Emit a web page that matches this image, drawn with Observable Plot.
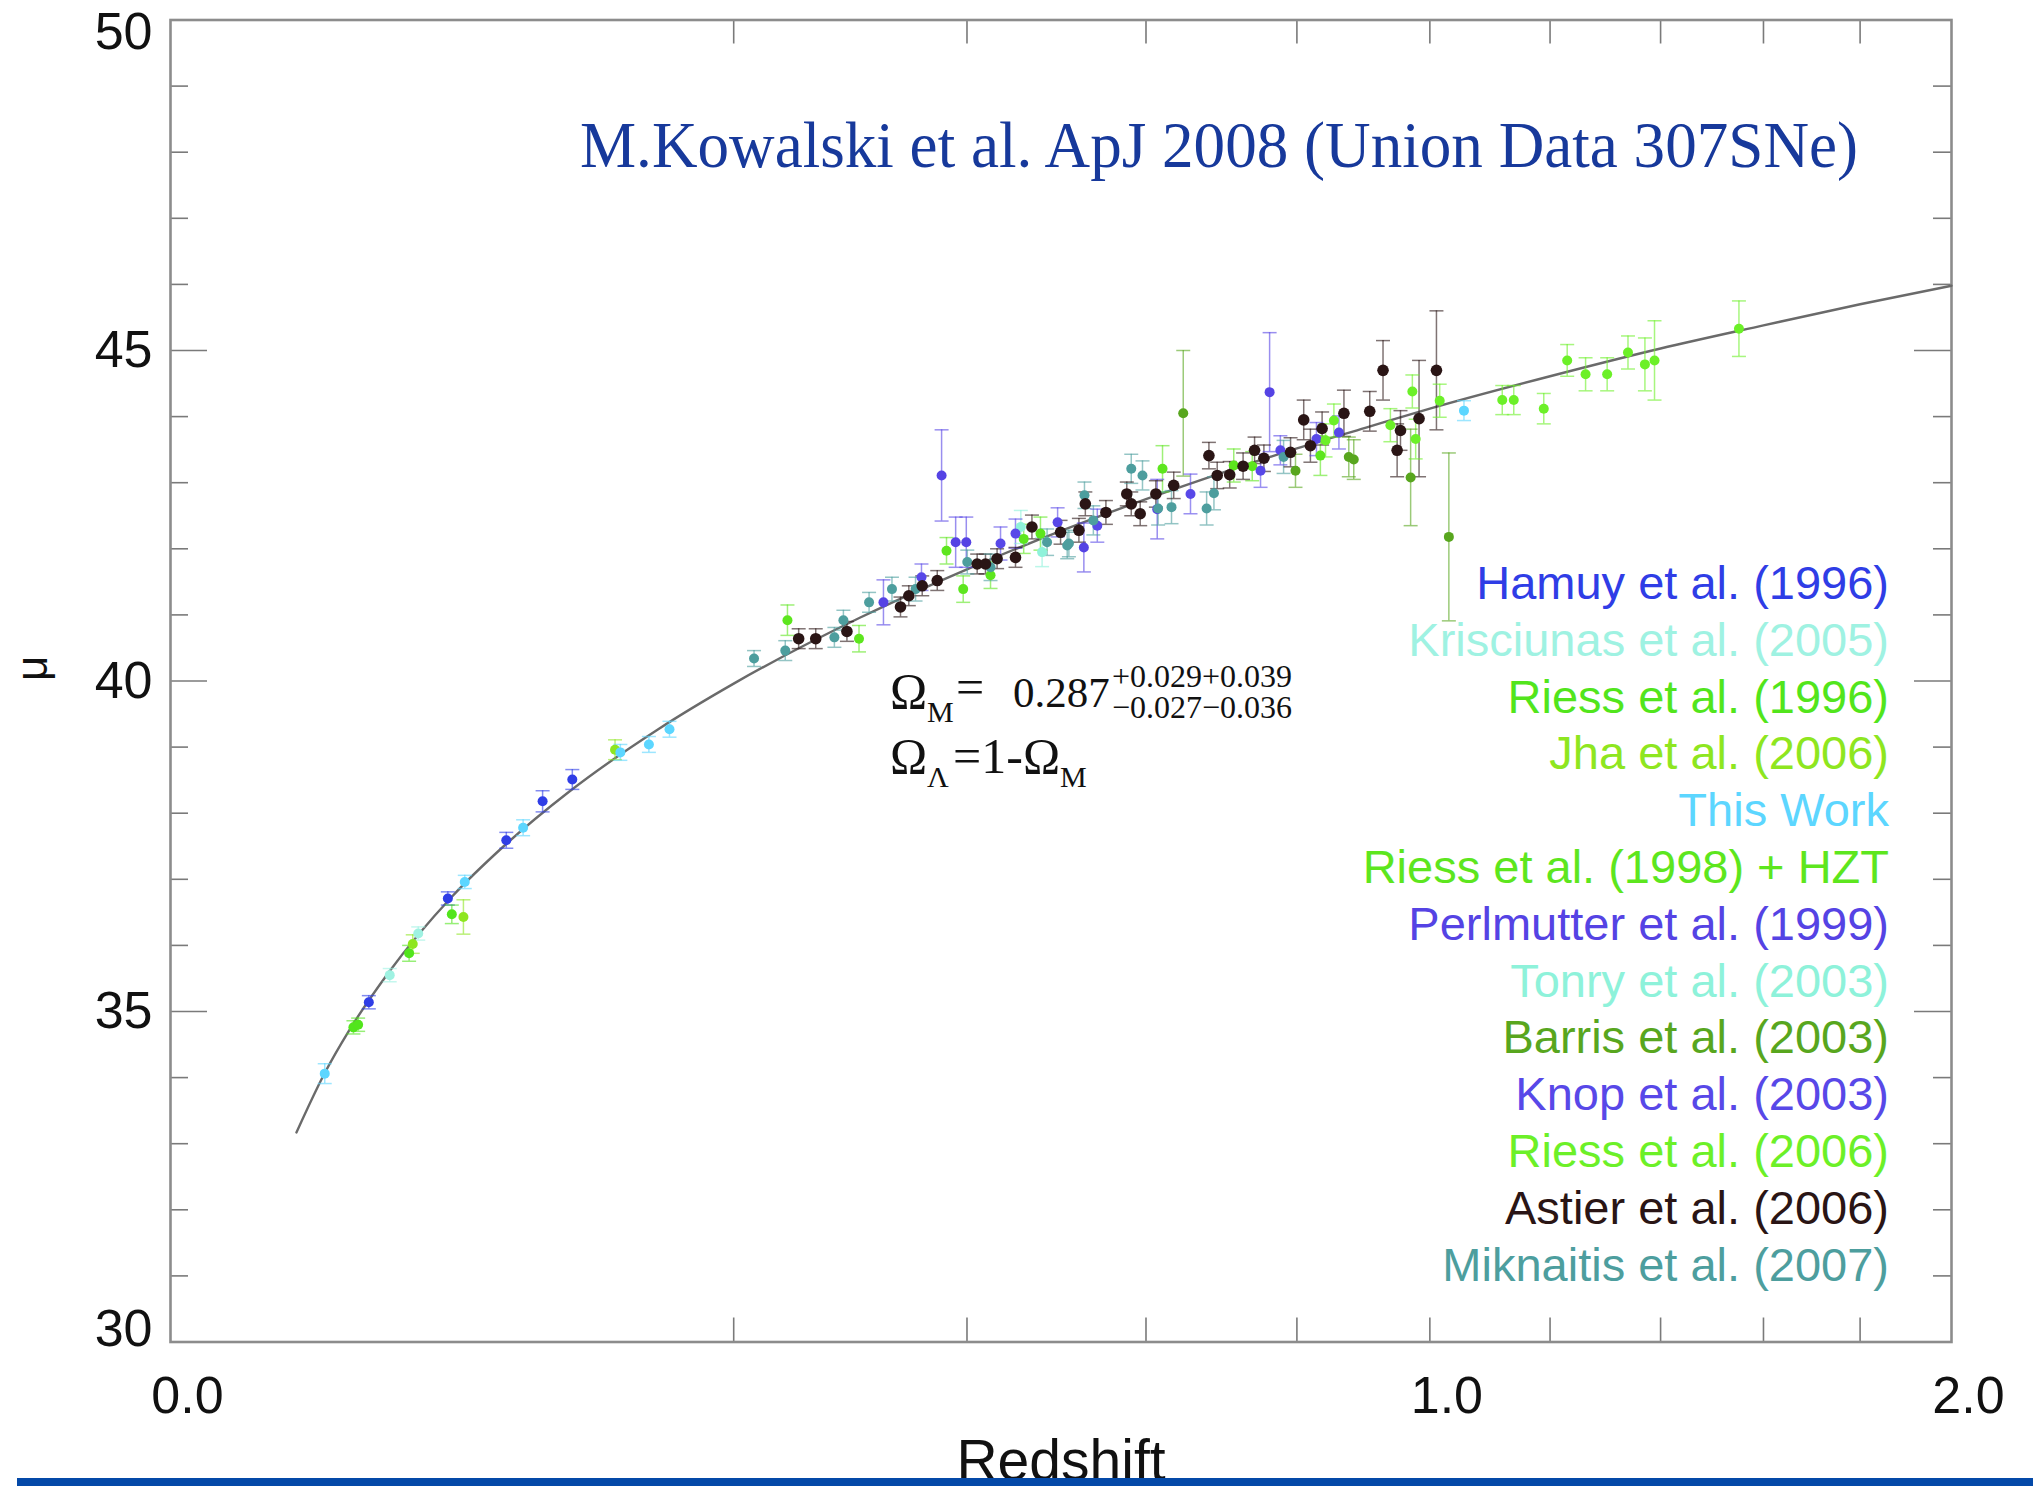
<!DOCTYPE html>
<html>
<head>
<meta charset="utf-8">
<script src="https://cdn.jsdelivr.net/npm/d3@7"></script>
<script src="https://cdn.jsdelivr.net/npm/@observablehq/plot@0.6"></script>
<style>
  html, body { margin: 0; padding: 0; background: #ffffff; overflow: hidden; }
  #chart { position: relative; width: 2033px; height: 1486px; }
  #chart svg { display: block; }
  #rule-bar { position: absolute; left: 17px; top: 1478px; width: 2016px; height: 8px; background: #0449a8; }
</style>
</head>
<body>
<div id="chart"><div id="rule-bar"></div></div>
<script>
// Hubble diagram of the Union supernova compilation: distance modulus vs redshift.

const titleText = "M.Kowalski et al. ApJ 2008 (Union Data 307SNe)";
const xLabel = "Redshift";
const yLabel = "μ";

const surveys = [
  "Hamuy et al. (1996)",
  "Krisciunas et al. (2005)",
  "Riess et al. (1996)",
  "Jha et al. (2006)",
  "This Work",
  "Riess et al. (1998) + HZT",
  "Perlmutter et al. (1999)",
  "Tonry et al. (2003)",
  "Barris et al. (2003)",
  "Knop et al. (2003)",
  "Riess et al. (2006)",
  "Astier et al. (2006)",
  "Miknaitis et al. (2007)"
];

const surveyColors = [
  "#2f3de6", "#9ff2e2", "#52e51c", "#8ee620", "#5cd6ff", "#5de61e", "#5543e4",
  "#8ef2da", "#58a61e", "#5848e8", "#6cf028", "#2a1515", "#4d9e9e"
];

// Each supernova: [redshift, distance modulus, 1-sigma error]
const hamuy96 = [
  [0.0248, 35.14, 0.10], [0.0485, 36.71, 0.10], [0.0711, 37.59, 0.12],
  [0.0873, 38.18, 0.16], [0.1018, 38.51, 0.15]
];
const krisciunas05 = [
  [0.0303, 35.55, 0.10], [0.0387, 36.18, 0.10]
];
const riess96 = [
  [0.0211, 34.76, 0.10], [0.0222, 34.80, 0.10], [0.0359, 35.88, 0.12], [0.0499, 36.47, 0.14]
];
const jha06 = [
  [0.0370, 36.02, 0.14], [0.0541, 36.43, 0.26], [0.1246, 38.96, 0.15]
];
const thisWork = [
  [0.0150, 34.06, 0.15], [0.0546, 36.96, 0.10], [0.0784, 37.78, 0.12], [0.1276, 38.92, 0.12],
  [0.1443, 39.04, 0.12], [0.1570, 39.27, 0.12], [1.0549, 44.09, 0.15]
];
const riess98hzt = [
  [0.2400, 40.92, 0.23], [0.2989, 40.64, 0.20], [0.3797, 41.97, 0.20], [0.3962, 41.39, 0.20],
  [0.4240, 41.60, 0.20], [0.4590, 42.15, 0.22], [0.4772, 42.23, 0.25], [0.6205, 43.21, 0.35],
  [0.7128, 43.26, 0.25], [0.7378, 43.25, 0.22], [0.8337, 43.41, 0.30]
];
const perlmutter99 = [
  [0.3205, 41.19, 0.34], [0.3749, 43.11, 0.69], [0.3887, 42.10, 0.38], [0.3993, 42.10, 0.38],
  [0.5260, 42.02, 0.37], [0.6139, 42.60, 0.45], [0.7617, 44.37, 0.90]
];
const tonry03 = [
  [0.4559, 42.33, 0.25], [0.4790, 41.95, 0.22]
];
const barris03 = [
  [0.6467, 44.05, 0.95], [0.7980, 43.18, 0.25], [0.8754, 43.39, 0.30], [0.8828, 43.35, 0.30],
  [0.9697, 43.08, 0.73], [1.0304, 42.18, 1.27]
];
const knop03 = [
  [0.3556, 41.57, 0.20], [0.4344, 42.08, 0.25], [0.4502, 42.23, 0.22], [0.4962, 42.40, 0.22],
  [0.5416, 42.35, 0.25], [0.6560, 42.83, 0.30], [0.7492, 43.18, 0.25], [0.7767, 43.49, 0.22],
  [0.8280, 43.66, 0.25], [0.8608, 43.76, 0.25]
];
const riess06 = [
  [0.8412, 43.64, 0.25], [0.8534, 43.94, 0.25], [0.9383, 43.87, 0.25], [0.9724, 44.38, 0.25],
  [0.9776, 43.66, 0.30], [1.0157, 44.24, 0.25], [1.1183, 44.25, 0.22], [1.1377, 44.25, 0.22],
  [1.1891, 44.12, 0.23], [1.2300, 44.85, 0.24], [1.2626, 44.64, 0.25], [1.3014, 44.64, 0.25],
  [1.3394, 44.97, 0.25], [1.3707, 44.79, 0.40], [1.3886, 44.85, 0.60], [1.5511, 45.33, 0.42]
];
const astier06 = [
  [0.2488, 40.64, 0.15], [0.2625, 40.64, 0.15], [0.2885, 40.75, 0.15], [0.3360, 41.12, 0.15],
  [0.3437, 41.29, 0.15], [0.3563, 41.44, 0.15], [0.3707, 41.52, 0.15], [0.4103, 41.77, 0.15],
  [0.4188, 41.77, 0.15], [0.4308, 41.85, 0.15], [0.4502, 41.87, 0.15], [0.4679, 42.33, 0.18],
  [0.4995, 42.25, 0.18], [0.5203, 42.28, 0.18], [0.5277, 42.68, 0.18], [0.5517, 42.55, 0.18],
  [0.5766, 42.83, 0.18], [0.5820, 42.68, 0.18], [0.5929, 42.53, 0.18], [0.6122, 42.83, 0.20],
  [0.6346, 42.96, 0.20], [0.6799, 43.41, 0.20], [0.6908, 43.11, 0.20], [0.7074, 43.12, 0.20],
  [0.7254, 43.25, 0.20], [0.7410, 43.49, 0.20], [0.7538, 43.37, 0.20], [0.7910, 43.46, 0.22],
  [0.8097, 43.95, 0.30], [0.8193, 43.56, 0.25], [0.8362, 43.82, 0.25], [0.8682, 44.05, 0.35],
  [0.9068, 44.08, 0.30], [0.9270, 44.70, 0.45], [0.9487, 43.49, 0.40], [0.9539, 43.79, 0.30],
  [0.9829, 43.97, 0.88], [1.0105, 44.70, 0.90]
];
const miknaitis07 = [
  [0.2147, 40.34, 0.12], [0.2383, 40.46, 0.15], [0.2779, 40.66, 0.15], [0.2855, 40.92, 0.15],
  [0.3077, 41.19, 0.15], [0.3282, 41.39, 0.18], [0.3500, 41.39, 0.18], [0.4003, 41.80, 0.18],
  [0.4240, 41.72, 0.20], [0.4845, 42.10, 0.20], [0.5070, 42.05, 0.20], [0.5089, 42.08, 0.20],
  [0.5267, 42.81, 0.20], [0.5370, 42.43, 0.22], [0.5820, 43.21, 0.22], [0.5957, 43.11, 0.22],
  [0.6150, 42.61, 0.25], [0.6318, 42.63, 0.25], [0.6769, 42.61, 0.25], [0.6865, 42.84, 0.25],
  [0.7812, 43.39, 0.25]
];

const surveyPoints = [
  hamuy96, krisciunas05, riess96, jha06, thisWork, riess98hzt, perlmutter99,
  tonry03, barris03, knop03, riess06, astier06, miknaitis07
];

// Best-fit flat ΛCDM distance modulus, sampled along the drawn curve
const modelZ  = [0.010, 0.015, 0.020, 0.030, 0.050, 0.070, 0.100, 0.150, 0.200, 0.300, 0.400,
                 0.500, 0.600, 0.700, 0.800, 0.900, 1.000, 1.200, 1.400, 1.600, 1.800, 2.000];
const modelMu = [33.17, 34.07, 34.70, 35.59, 36.74, 37.50, 38.32, 39.27, 39.96, 40.96, 41.69,
                 42.27, 42.75, 43.16, 43.52, 43.83, 44.12, 44.61, 45.03, 45.38, 45.70, 45.98];

// Axis ticks
const xLabelTicks = [0, 1, 2];
const xMinorTicks = [0.2, 0.4, 0.6, 0.8, 1.0, 1.2, 1.4, 1.6, 1.8];
const yMajorTicks = [35, 40, 45];
const yMinorTicks = [31, 32, 33, 34, 36, 37, 38, 39, 41, 42, 43, 44, 46, 47, 48, 49];

// ---------------------------------------------------------------------------

const points = surveys.flatMap((name, i) =>
  surveyPoints[i].map(([z, mu, err]) => ({survey: name, color: surveyColors[i], z, mu, err}))
);
const model = modelZ.map((z, i) => ({z, mu: modelMu[i]}));

const width = 2033, height = 1486;
const margin = {top: 19.5, right: 82, bottom: 144.5, left: 170};
const frameW = width - margin.left - margin.right;
const frameH = height - margin.top - margin.bottom;

// horizontal bar used for the error-bar caps
const cap = {
  draw(ctx, size) {
    const w = Math.sqrt(size / Math.PI);
    ctx.moveTo(-w, 0);
    ctx.lineTo(w, 0);
  }
};

const sans = "Liberation Sans, Arial, Helvetica, sans-serif";
const serif = "Liberation Serif, Times New Roman, serif";
const tickColor = "#7a7a7a";

const plot = Plot.plot({
  width, height,
  marginTop: margin.top, marginRight: margin.right,
  marginBottom: margin.bottom, marginLeft: margin.left,
  style: {background: "#ffffff", fontFamily: sans, color: "#111"},
  x: {type: "sqrt", domain: [0, 2]},
  y: {domain: [30, 50]},
  color: {type: "identity"},
  marks: [
    // inward ticks on all four sides
    Plot.tickX(xMinorTicks, {x: d => d, insetTop: frameH - 24, stroke: tickColor, strokeWidth: 1.6}),
    Plot.tickX(xMinorTicks, {x: d => d, insetBottom: frameH - 24, stroke: tickColor, strokeWidth: 1.6}),
    Plot.tickY(yMajorTicks, {y: d => d, insetRight: frameW - 37, stroke: tickColor, strokeWidth: 1.6}),
    Plot.tickY(yMinorTicks, {y: d => d, insetRight: frameW - 18, stroke: tickColor, strokeWidth: 1.6}),
    Plot.tickY(yMajorTicks, {y: d => d, insetLeft: frameW - 37, stroke: tickColor, strokeWidth: 1.6}),
    Plot.tickY(yMinorTicks, {y: d => d, insetLeft: frameW - 18, stroke: tickColor, strokeWidth: 1.6}),
    Plot.frame({stroke: "#8c8c8c", strokeWidth: 2.6}),

    // tick labels
    Plot.axisX({ticks: xLabelTicks, tickFormat: d => d.toFixed(1), tickSize: 0, tickPadding: 34,
                fontSize: 52, dx: 17, label: null, fill: "#111"}),
    Plot.axisY({ticks: yMajorTicks, tickSize: 0, tickPadding: 18, fontSize: 52, label: null, fill: "#111"}),
    Plot.axisY({ticks: [50], tickSize: 0, tickPadding: 18, fontSize: 52, dy: 12, label: null, fill: "#111"}),
    Plot.axisY({ticks: [30], tickSize: 0, tickPadding: 18, fontSize: 52, dy: -13, label: null, fill: "#111"}),

    // axis titles
    Plot.text([xLabel], {frameAnchor: "bottom", dy: 138, lineAnchor: "bottom", fontSize: 57, fill: "#111"}),
    Plot.text([yLabel], {frameAnchor: "left", dx: -138, rotate: -90, fontSize: 44, fill: "#111"}),

    // cosmological model
    Plot.line(model, {x: "z", y: "mu", curve: "monotone-x", stroke: "#6a6a6a", strokeWidth: 2.4}),

    // error bars with caps
    Plot.ruleX(points, {x: "z", y1: d => d.mu - d.err, y2: d => d.mu + d.err,
                        stroke: d => d.color, strokeOpacity: 0.6, strokeWidth: 1.5}),
    Plot.dot(points, {x: "z", y: d => d.mu - d.err, symbol: cap, r: 7, fill: "none",
                      stroke: d => d.color, strokeOpacity: 0.6, strokeWidth: 1.5}),
    Plot.dot(points, {x: "z", y: d => d.mu + d.err, symbol: cap, r: 7, fill: "none",
                      stroke: d => d.color, strokeOpacity: 0.6, strokeWidth: 1.5}),

    // supernovae
    Plot.dot(points.filter(d => d.survey !== surveys[11]), {x: "z", y: "mu", r: 5, fill: d => d.color, stroke: "none"}),
    Plot.dot(points.filter(d => d.survey === surveys[11]), {x: "z", y: "mu", r: 5.8, fill: d => d.color, stroke: "none"})
  ]
});

document.getElementById("chart").prepend(plot);

const svg = d3.select(plot);

// title inside the frame
svg.append("text")
  .attr("x", 580).attr("y", 167)
  .attr("text-anchor", "start")
  .attr("font-family", serif).attr("font-size", 66)
  .attr("fill", "#17399b")
  .attr("textLength", 1278).attr("lengthAdjust", "spacingAndGlyphs")
  .text(titleText);

// fit result
const fit = svg.append("g").attr("font-family", serif).attr("fill", "#111").attr("text-anchor", "start");
const put = (x, y, size, s) => fit.append("text").attr("x", x).attr("y", y).attr("font-size", size).text(s);
put(890, 708, 50, "Ω");
put(927, 722, 30, "M");
put(956, 704, 50, "=");
put(1013, 707, 43, "0.287");
put(1112, 687, 32, "+0.029+0.039");
put(1112, 718, 32, "−0.027−0.036");
put(890, 773, 50, "Ω");
put(927, 787, 30, "Λ");
put(953, 773, 50, "=1-");
put(1023, 773, 50, "Ω");
put(1060, 787, 30, "M");

// survey key
const key = svg.append("g").attr("font-family", sans).attr("font-size", 47).attr("text-anchor", "end");
surveys.forEach((name, i) => {
  key.append("text")
    .attr("x", 1889).attr("y", 599 + i * 56.8)
    .attr("fill", surveyColors[i])
    .text(name);
});
</script>
</body>
</html>
